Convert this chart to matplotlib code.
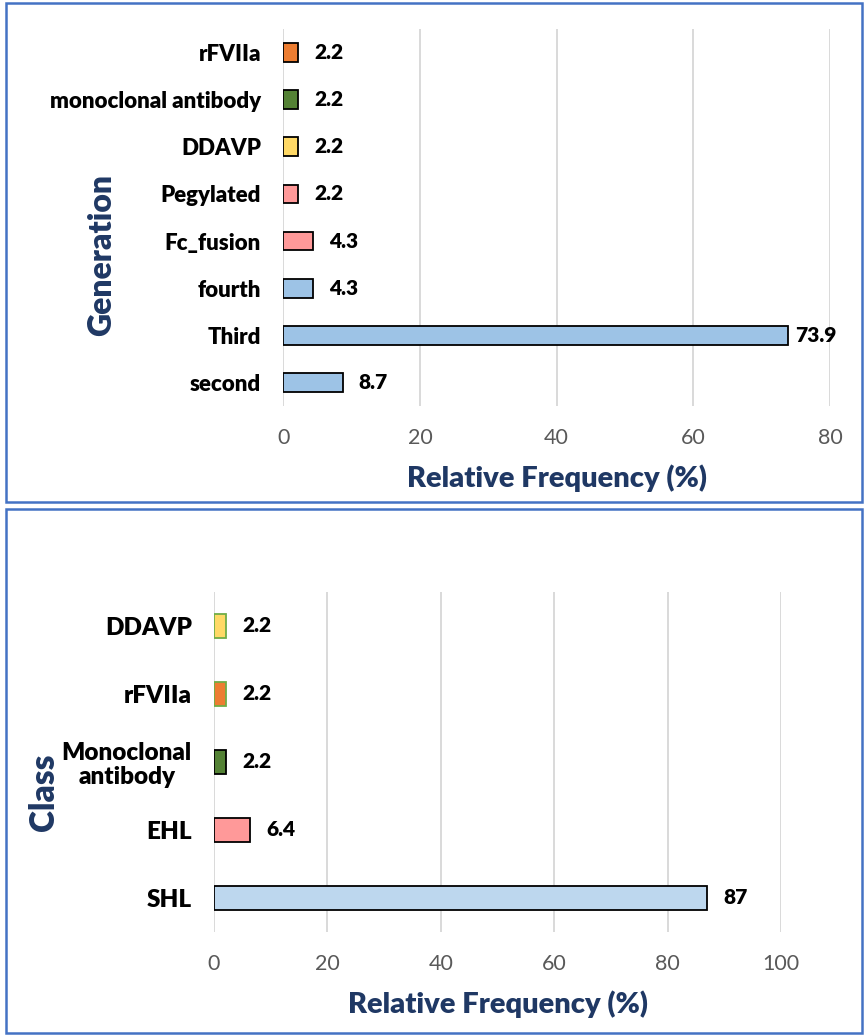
import matplotlib
matplotlib.use("Agg")
import matplotlib.pyplot as plt
from matplotlib.patches import Rectangle

plt.rcParams['font.family'] = ['Lato', 'DejaVu Sans']

# ---- data: top chart (Generation) ----
gen_categories = ["second", "Third", "fourth", "Fc_fusion", "Pegylated", "DDAVP",
                  "monoclonal antibody", "rFVIIa"]
gen_values = [8.7, 73.9, 4.3, 4.3, 2.2, 2.2, 2.2, 2.2]
gen_colors = ["#9DC3E6", "#9DC3E6", "#9DC3E6", "#FF9999", "#FF9999", "#FFD966",
              "#548235", "#ED7D31"]
gen_edges = ["black"] * 8
gen_xticks = [0, 20, 40, 60, 80]

# ---- data: bottom chart (Class) ----
cls_categories = ["SHL", "EHL", "Monoclonal\nantibody", "rFVIIa", "DDAVP"]
cls_values = [87, 6.4, 2.2, 2.2, 2.2]
cls_colors = ["#BDD7EE", "#FF9999", "#548235", "#ED7D31", "#FFD966"]
cls_edges = ["black", "black", "black", "#70AD47", "#70AD47"]
cls_xticks = [0, 20, 40, 60, 80, 100]

NAVY = "#1F3864"
GRID = "#D9D9D9"
W, H = 865, 1035

fig = plt.figure(figsize=(W / 100, H / 100), dpi=100)


def px_axes(x0, x1, ytop, ybot):
    return fig.add_axes([x0 / W, 1 - ybot / H, (x1 - x0) / W, (ybot - ytop) / H])


def style(ax, xticks, ticksize):
    ax.set_xlim(xticks[0], xticks[-1])
    ax.set_xticks(xticks)
    ax.grid(axis='x', color=GRID, linewidth=1.4)
    ax.set_axisbelow(True)
    for s in ax.spines.values():
        s.set_visible(False)
    ax.tick_params(axis='both', length=0)
    ax.tick_params(axis='x', pad=16, labelsize=ticksize, labelcolor="#595959")
    ax.tick_params(axis='y', pad=16, labelcolor="black")


# ---- top chart ----
ax1 = px_axes(283.3, 830, 29, 406)
y1 = range(len(gen_categories))
bars1 = ax1.barh(y1, gen_values, height=0.40, color=gen_colors,
                 edgecolor=gen_edges, linewidth=1.3)
ax1.set_ylim(-0.5, len(gen_categories) - 0.5)
style(ax1, gen_xticks, 15.5)
ax1.set_yticks(list(y1))
ax1.set_yticklabels(gen_categories, fontsize=16, fontweight='heavy')
for b, v in zip(bars1, gen_values):
    off = 5 if v > 70 else 11.5
    ax1.annotate(f"{v:g}", (b.get_width(), b.get_y() + b.get_height() / 2),
                 xytext=(off, 0), textcoords='offset points', ha='left',
                 va='center', fontsize=15, fontweight='heavy', color='black')
ax1.set_xlabel("Relative Frequency (%)", fontsize=21, fontweight='heavy',
               color=NAVY, labelpad=12)
ax1.set_ylabel("Generation", fontsize=23, fontweight='heavy', color=NAVY)
ax1.yaxis.set_label_coords(-0.305, 0.40)

# ---- bottom chart ----
ax2 = px_axes(214, 781, 592, 932)
y2 = range(len(cls_categories))
bars2 = ax2.barh(y2, cls_values, height=0.366, color=cls_colors,
                 edgecolor=cls_edges, linewidth=1.3)
ax2.set_ylim(-0.5, len(cls_categories) - 0.5)
style(ax2, cls_xticks, 15.5)
ax2.set_yticks(list(y2))
ax2.set_yticklabels(cls_categories, fontsize=17.5, fontweight='heavy',
                    linespacing=1.1, multialignment='center')
for b, v in zip(bars2, cls_values):
    ax2.annotate(f"{v:g}", (b.get_width(), b.get_y() + b.get_height() / 2),
                 xytext=(11.5, 0), textcoords='offset points', ha='left',
                 va='center', fontsize=15, fontweight='heavy', color='black')
ax2.set_xlabel("Relative Frequency (%)", fontsize=21, fontweight='heavy',
               color=NAVY, labelpad=12)
ax2.set_ylabel("Class", fontsize=24, fontweight='heavy', color=NAVY)
ax2.yaxis.set_label_coords(-0.272, 0.41)

# ---- panel borders ----
for (x0, y0, x1, y1_) in [(6, 3, 862, 502), (6, 509, 862, 1033)]:
    fig.patches.append(Rectangle((x0 / W, 1 - y1_ / H), (x1 - x0) / W, (y1_ - y0) / H,
                                 transform=fig.transFigure, fill=False,
                                 edgecolor="#4472C4", linewidth=1.8))

fig.savefig("out.png", dpi=100)
